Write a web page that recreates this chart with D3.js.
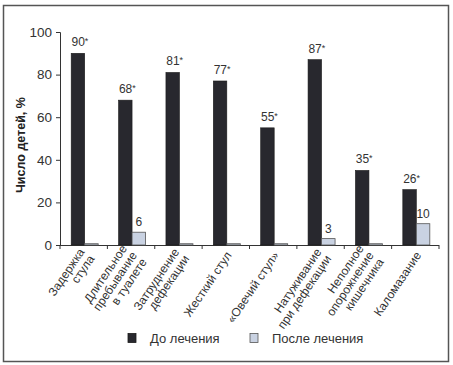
<!DOCTYPE html>
<html><head><meta charset="utf-8">
<script src="https://cdn.jsdelivr.net/npm/d3@7"></script>
<style>body{margin:0;background:#fff;}svg{display:block;font-family:Arial,"Liberation Sans",sans-serif;}</style>
</head><body>
<svg id="chart" width="453" height="365"></svg>
<script>
const categories = [
  ["Задержка","стула"],
  ["Длительное","пребывание","в туалете"],
  ["Затруднение","дефекации"],
  ["Жесткий стул"],
  ["«Овечий стул»"],
  ["Натуживание","при дефекации"],
  ["Неполное","опорожнение","кишечника"],
  ["Каломазание"]
];
const before = [90, 68, 81, 77, 55, 87, 35, 26];
const after = [0.6, 6, 0.6, 0.6, 0.6, 3, 0.6, 10];
const beforeLabels = ["90","68","81","77","55","87","35","26"];
const afterLabels = ["", "6", "", "", "", "3", "", "10"];
const yTicks = [0, 20, 40, 60, 80, 100];
const seriesNames = ["До лечения", "После лечения"];
const colors = ["#28282e", "#c9d2e2"];

const svg = d3.select("#chart");
svg.append("rect").attr("x",3.5).attr("y",5.5).attr("width",445).attr("height",356)
  .attr("fill","#fff").attr("stroke","#555").attr("stroke-width",1.5);

const x0 = 60, x1 = 439, yTop = 32, yBot = 245;
const x = d3.scaleBand().domain(d3.range(categories.length)).range([x0, x1]).paddingInner(0).paddingOuter(0);
const y = d3.scaleLinear().domain([0, 100]).range([yBot, yTop]);
const bw = 13.5;

const yAxis = svg.append("g").attr("transform",`translate(${x0},0)`)
  .call(d3.axisLeft(y).tickValues(yTicks).tickSize(4).tickPadding(4));
yAxis.select(".domain").attr("stroke","#333");
yAxis.selectAll(".tick line").attr("stroke","#333");
yAxis.selectAll(".tick text").attr("font-size",13.5).attr("fill","#333").attr("font-family","Arial, 'Liberation Sans', sans-serif");

const xg = svg.append("g");
xg.append("line").attr("x1",x0).attr("x2",x1).attr("y1",yBot+0.5).attr("y2",yBot+0.5).attr("stroke","#333");
xg.selectAll("line.t").data(d3.range(categories.length+1)).join("line").attr("class","t")
  .attr("x1",i=>x0 + i*x.bandwidth()).attr("x2",i=>x0 + i*x.bandwidth())
  .attr("y1",yBot).attr("y2",yBot+4).attr("stroke","#333");

const g = svg.append("g");
categories.forEach((c,i)=>{
  const cx = x(i) + x.bandwidth()/2 + 1;
  g.append("rect").attr("x",cx-bw).attr("y",y(before[i])).attr("width",bw).attr("height",yBot-y(before[i]))
    .attr("fill",colors[0]).attr("stroke","#1a1a1a").attr("stroke-width",0.6);
  g.append("rect").attr("x",cx).attr("y",y(after[i])).attr("width",bw).attr("height",yBot-y(after[i]))
    .attr("fill",colors[1]).attr("stroke","#555").attr("stroke-width",0.8);
  const bt = g.append("text").attr("x",cx-bw/2+2).attr("y",y(before[i])-7).attr("text-anchor","middle")
    .attr("font-size",12).attr("fill","#333").text(beforeLabels[i]);
  bt.append("tspan").attr("font-size",9).attr("dy",-2).text("*");
  if (afterLabels[i]) g.append("text").attr("x",cx+bw/2).attr("y",y(after[i])-6).attr("text-anchor","middle")
    .attr("font-size",12).attr("fill","#333").text(afterLabels[i]);
  const ax = x(i) + x.bandwidth()/2 + 3, ay = 253;
  const t = svg.append("text").attr("transform",`translate(${ax},${ay}) rotate(-56)`)
    .attr("text-anchor","end").attr("font-size",12).attr("fill","#333");
  const n = c.length, lh = 12;
  c.forEach((line,k)=>{
    t.append("tspan").attr("x",0).attr("y",(k-(n-1)/2)*lh + 4).text(line);
  });
});

svg.append("text").attr("transform","translate(25,145) rotate(-90)").attr("text-anchor","middle")
  .attr("font-size",12.5).attr("font-weight","bold").attr("fill","#222").text("Число детей, %");

const legX = [128, 250], legTX = [150, 272];
seriesNames.forEach((s,i)=>{
  svg.append("rect").attr("x",legX[i]).attr("y",333.5).attr("width",8).attr("height",9)
    .attr("fill",colors[i]).attr("stroke",i?"#555":"#1a1a1a").attr("stroke-width",0.8);
  svg.append("text").attr("x",legTX[i]).attr("y",343).attr("font-size",13).attr("fill","#333").text(s);
});
</script>
</body></html>
